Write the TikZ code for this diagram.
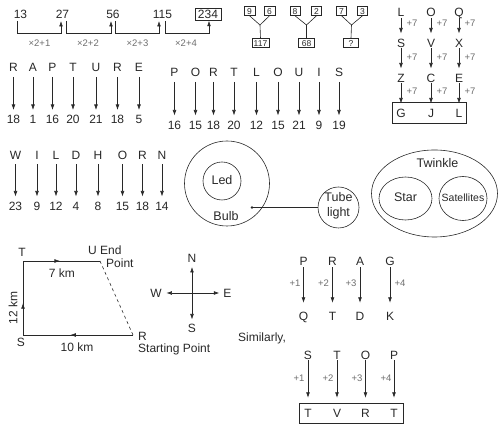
\documentclass[tikz,border=0pt]{standalone}
\usepackage{fontspec}
\setmainfont{Liberation Sans}
\usetikzlibrary{arrows.meta,positioning,shapes.geometric,calc,fit,decorations.markings}

\definecolor{inkgray}{RGB}{40,40,40}
\definecolor{labelgray}{RGB}{110,110,110}

\begin{document}
\begin{tikzpicture}[x=1pt, y=-1pt,
    txt/.style={text=inkgray, font=\fontsize{12}{14}\selectfont, inner sep=2pt, text height=8.6pt, text depth=0pt},
    word/.style={text=inkgray, font=\fontsize{12.5}{14.5}\selectfont, inner sep=1pt, align=center},
    small/.style={text=labelgray, font=\fontsize{9.5}{11}\selectfont, inner sep=1pt},
    numbox/.style={draw=inkgray, text=inkgray, font=\fontsize{8.5}{10}\selectfont, inner xsep=1.5pt, inner ysep=1.5pt, text height=6.1pt, text depth=0pt},
    line/.style={draw=inkgray, line width=0.6pt},
    arr/.style={line, -{Latex[length=5.5pt,width=3.8pt]}},
    codearr/.style={arr, shorten <=3pt, shorten >=3pt},
    loqarr/.style={arr, shorten <=-1pt, shorten >=3pt},
    shiftarr/.style={arr, shorten <=0pt, shorten >=7.2pt},
    midarr/.style={postaction={decorate}, decoration={markings, mark=at position #1 with {\arrow{Latex[length=5.5pt,width=3.8pt]}}}},
]
    \useasboundingbox (0,0) rectangle (504,427);

    % number series 13, 27, 56, 115, 234
    \node[txt] (s13) at (20.5,14.5) {13};
    \node[txt] (s27) at (62.5,14.5) {27};
    \node[txt] (s56) at (113,14.5) {56};
    \node[txt] (s115) at (162.5,14.5) {115};
    \node[txt, draw=inkgray, line width=0.9pt, inner xsep=3pt, inner ysep=1.5pt] (s234) at (208,14.5) {234};

    \draw[arr] ([xshift=-3pt]s13.south) -- ++(0,12.2) -| ([xshift=-1.5pt]s27.south);
    \draw[arr] ([xshift=3.5pt]s27.south) -- ++(0,12.2) -| ([xshift=-2pt]s56.south);
    \draw[arr] ([xshift=2pt]s56.south) -- ++(0,12.2) -| ([xshift=-3.5pt]s115.south);
    \draw[arr] ([xshift=2.5pt]s115.south) -- ++(0,12.2) -| ([xshift=1pt]s234.south);

    \node[small] (m1) at (39.5,43) {×2+1};
    \node[small] (m2) at (88,43) {×2+2};
    \node[small] (m3) at (137.5,43) {×2+3};
    \node[small] (m4) at (186,43) {×2+4};

    % number trees
    \node[numbox, minimum width=11pt] (t9) at (249.5,11) {9};
    \node[numbox, minimum width=11pt] (t6) at (269.5,11) {6};
    \node[numbox, minimum width=16pt] (t117) at (260.5,43) {117};
    \coordinate (j1) at (260,25);
    \draw[line] (t9.south) -- (j1) -- (t6.south);
    \draw[line] (j1) -- (t117.north);

    \node[numbox, minimum width=10pt] (t8) at (295,11) {8};
    \node[numbox, minimum width=10pt] (t2) at (316.5,11) {2};
    \node[numbox, minimum width=16pt] (t68) at (306.5,43) {68};
    \coordinate (j2) at (306.5,25);
    \draw[line] (t8.south) -- (j2) -- (t2.south);
    \draw[line] (j2) -- (t68.north);

    \node[numbox, minimum width=10pt] (t7) at (341.5,11) {7};
    \node[numbox, minimum width=10pt] (t3) at (362.5,11) {3};
    \node[numbox, minimum width=15pt] (tq) at (351,43) {?};
    \coordinate (j3) at (351.5,25);
    \draw[line] (t7.south) -- (j3) -- (t3.south);
    \draw[line] (j3) -- (tq.north);

    % L O Q  +7 columns
    \node[txt] (c1a) at (401,12.5) {L};
    \node[txt] (c2a) at (431,12.5) {O};
    \node[txt] (c3a) at (459,12.5) {Q};
    \node[txt] (c1b) at (401,43) {S};
    \node[txt] (c2b) at (431,43) {V};
    \node[txt] (c3b) at (459,43) {X};
    \node[txt] (c1c) at (401,78) {Z};
    \node[txt] (c2c) at (431,78) {C};
    \node[txt] (c3c) at (459,78) {E};
    \node[txt] (c1d) at (401,113) {G};
    \node[txt] (c2d) at (431,113) {J};
    \node[txt] (c3d) at (459,113) {L};
    \node[draw=inkgray, line width=0.6pt, inner xsep=2pt, inner ysep=3.7pt, fit=(c1d)(c3d)] (gjl) {};

    \draw[loqarr] (c1a) -- (c1b);
    \draw[loqarr] (c2a) -- (c2b);
    \draw[loqarr] (c3a) -- (c3b);
    \draw[loqarr] (c1b) -- (c1c);
    \draw[loqarr] (c2b) -- (c2c);
    \draw[loqarr] (c3b) -- (c3c);
    \draw[loqarr] (c1c) -- (c1d);
    \draw[loqarr] (c2c) -- (c2d);
    \draw[loqarr] (c3c) -- (c3d);

    \node[small] (p1a) at (412,23) {+7};
    \node[small] (p2a) at (442,23) {+7};
    \node[small] (p3a) at (470,23) {+7};
    \node[small] (p1b) at (412,57) {+7};
    \node[small] (p2b) at (442,57) {+7};
    \node[small] (p3b) at (470,57) {+7};
    \node[small] (p1c) at (412,91) {+7};
    \node[small] (p2c) at (442,91) {+7};
    \node[small] (p3c) at (470,91) {+7};

    % R A P T U R E
    \node[txt] (ra) at (13.5,67.5) {R};
    \node[txt] (rb) at (33,67.5) {A};
    \node[txt] (rc) at (52.5,67.5) {P};
    \node[txt] (rd) at (73,67.5) {T};
    \node[txt] (re) at (96,67.5) {U};
    \node[txt] (rf) at (117.5,67.5) {R};
    \node[txt] (rg) at (139,67.5) {E};
    \node[txt] (na) at (13.5,119.5) {18};
    \node[txt] (nb) at (33,119.5) {1};
    \node[txt] (nc) at (52.5,119.5) {16};
    \node[txt] (nd) at (73,119.5) {20};
    \node[txt] (ne) at (96,119.5) {21};
    \node[txt] (nf) at (117.5,119.5) {18};
    \node[txt] (ng) at (139,119.5) {5};
    \draw[codearr] (ra) -- (na);
    \draw[codearr] (rb) -- (nb);
    \draw[codearr] (rc) -- (nc);
    \draw[codearr] (rd) -- (nd);
    \draw[codearr] (re) -- (ne);
    \draw[codearr] (rf) -- (nf);
    \draw[codearr] (rg) -- (ng);

    % P O R T L O U I S
    \node[txt] (pa) at (174.5,72.5) {P};
    \node[txt] (pb) at (195.5,72.5) {O};
    \node[txt] (pc) at (213.5,72.5) {R};
    \node[txt] (pd) at (234,72.5) {T};
    \node[txt] (pe) at (256.5,72.5) {L};
    \node[txt] (pf) at (278,72.5) {O};
    \node[txt] (pg) at (299,72.5) {U};
    \node[txt] (ph) at (319,72.5) {I};
    \node[txt] (pi) at (339,72.5) {S};
    \node[txt] (qa) at (174.5,125) {16};
    \node[txt] (qb) at (195.5,125) {15};
    \node[txt] (qc) at (213.5,125) {18};
    \node[txt] (qd) at (234,125) {20};
    \node[txt] (qe) at (256.5,125) {12};
    \node[txt] (qf) at (278,125) {15};
    \node[txt] (qg) at (299,125) {21};
    \node[txt] (qh) at (319,125) {9};
    \node[txt] (qi) at (339,125) {19};
    \draw[codearr] (pa) -- (qa);
    \draw[codearr] (pb) -- (qb);
    \draw[codearr] (pc) -- (qc);
    \draw[codearr] (pd) -- (qd);
    \draw[codearr] (pe) -- (qe);
    \draw[codearr] (pf) -- (qf);
    \draw[codearr] (pg) -- (qg);
    \draw[codearr] (ph) -- (qh);
    \draw[codearr] (pi) -- (qi);

    % W I L D H O R N
    \node[txt] (wa) at (15.5,155) {W};
    \node[txt] (wb) at (37,155) {I};
    \node[txt] (wc) at (56,155) {L};
    \node[txt] (wd) at (76,155) {D};
    \node[txt] (we) at (98,155) {H};
    \node[txt] (wf) at (122.5,155) {O};
    \node[txt] (wg) at (142.5,155) {R};
    \node[txt] (wh) at (162,155) {N};
    \node[txt] (va) at (15.5,206) {23};
    \node[txt] (vb) at (37,206) {9};
    \node[txt] (vc) at (56,206) {12};
    \node[txt] (vd) at (76,206) {4};
    \node[txt] (ve) at (98,206) {8};
    \node[txt] (vf) at (122.5,206) {15};
    \node[txt] (vg) at (142.5,206) {18};
    \node[txt] (vh) at (162,206) {14};
    \draw[codearr] (wa) -- (va);
    \draw[codearr] (wb) -- (vb);
    \draw[codearr] (wc) -- (vc);
    \draw[codearr] (wd) -- (vd);
    \draw[codearr] (we) -- (ve);
    \draw[codearr] (wf) -- (vf);
    \draw[codearr] (wg) -- (vg);
    \draw[codearr] (wh) -- (vh);

    % Bulb, Led, Tube light
    \node[circle, line, minimum size=85pt, inner sep=0] (bulb) at (227,183.5) {};
    \node[circle, line, minimum size=38pt, inner sep=0] (led) at (222,181) {};
    \node[word] (ledtxt) at (222,180) {Led};
    \node[word] (bulbtxt) at (226,216) {Bulb};
    \node[circle, line, minimum size=41pt, inner sep=0] (tube) at (338.5,207.5) {};
    \node[word] (tubetxt) at (338.5,206) {Tube\\light};
    \coordinate (dot) at (252,207.5);
    \fill[inkgray] (dot) circle (1.3pt);
    \draw[line] (dot) -- (tube.west);

    % Twinkle, Star, Satellites
    \node[ellipse, line, minimum width=126pt, minimum height=87pt, inner sep=0] (twinkle) at (434.5,193.5) {};
    \node[word] (twtxt) at (437.5,163) {Twinkle};
    \node[ellipse, line, minimum width=53pt, minimum height=43pt, inner sep=0] (star) at (405.5,198.5) {};
    \node[word] (startxt) at (405.5,197.5) {Star};
    \node[ellipse, line, minimum width=48pt, minimum height=44pt, inner sep=0] (sat) at (463,198.5) {};
    \node[word, font=\fontsize{10.5}{12}\selectfont] (sattxt) at (463,197.5) {Satellites};

    % route S T U R
    \coordinate (T) at (23,261);
    \coordinate (U) at (100,261);
    \coordinate (R) at (133,335);
    \coordinate (S) at (23,335);
    \draw[line, midarr=0.43] (S) -- (T);
    \draw[line, midarr=0.48] (T) -- (U);
    \draw[line, dashed] (U) -- (R);
    \draw[line, midarr=0.57] (R) -- (S);
    \node[txt] (lT) at (22,252) {T};
    \node[txt, anchor=west] (lU) at (86,250) {U End};
    \node[txt, anchor=west] (lpt) at (104,263.5) {Point};
    \node[txt] (l7) at (62,273) {7 km};
    \node[txt, rotate=90] (l12) at (13,308) {12 km};
    \node[txt] (lS) at (21,342) {S};
    \node[txt] (l10) at (77,347) {10 km};
    \node[txt, anchor=west] (lR) at (136,336) {R};
    \node[txt, anchor=west] (lstart) at (136,348.5) {Starting Point};

    % compass
    \coordinate (O) at (192,293);
    \node[txt] (dN) at (192,258) {N};
    \node[txt] (dS) at (192,328.5) {S};
    \node[txt] (dW) at (156,293) {W};
    \node[txt] (dE) at (227.5,293) {E};
    \draw[arr, shorten >=2.5pt] (O) -- (dN);
    \draw[arr, shorten >=2.5pt] (O) -- (dS);
    \draw[arr, shorten >=2.5pt] (O) -- (dW);
    \draw[arr, shorten >=2pt] (O) -- (dE);

    % P R A G  ->  Q T D K
    \node[txt] (ga) at (303.5,261) {P};
    \node[txt] (gb) at (332.5,261) {R};
    \node[txt] (gc) at (360,261) {A};
    \node[txt] (gd) at (390,261) {G};
    \node[txt] (ha) at (303.5,316.5) {Q};
    \node[txt] (hb) at (332.5,316.5) {T};
    \node[txt] (hc) at (360,316.5) {D};
    \node[txt] (hd) at (390,316.5) {K};
    \draw[shiftarr] (ga) -- (ha);
    \draw[shiftarr] (gb) -- (hb);
    \draw[shiftarr] (gc) -- (hc);
    \draw[shiftarr] (gd) -- (hd);
    \node[small] (ka) at (295,283) {+1};
    \node[small] (kb) at (323.5,283) {+2};
    \node[small] (kc) at (351,283) {+3};
    \node[small] (kd) at (400,283) {+4};

    \node[txt] (sim) at (262,337) {Similarly,};

    % S T O P  ->  T V R T
    \node[txt] (ua) at (308,355) {S};
    \node[txt] (ub) at (337,355) {T};
    \node[txt] (uc) at (365.5,355) {O};
    \node[txt] (ud) at (394,355) {P};
    \node[txt] (xa) at (308,413) {T};
    \node[txt] (xb) at (337,413) {V};
    \node[txt] (xc) at (365.5,413) {R};
    \node[txt] (xd) at (394,413) {T};
    \node[draw=inkgray, line width=0.6pt, inner xsep=3pt, inner ysep=3.5pt, fit=(xa)(xd)] (tvrt) {};
    \draw[arr, shorten <=-1pt, shorten >=8.7pt] (ua) -- (xa);
    \draw[arr, shorten <=-1pt, shorten >=8.7pt] (ub) -- (xb);
    \draw[arr, shorten <=-1pt, shorten >=8.7pt] (uc) -- (xc);
    \draw[arr, shorten <=-1pt, shorten >=8.7pt] (ud) -- (xd);
    \node[small] (ya) at (299,378) {+1};
    \node[small] (yb) at (328,378) {+2};
    \node[small] (yc) at (357,378) {+3};
    \node[small] (yd) at (386,378) {+4};
\end{tikzpicture}
\end{document}
